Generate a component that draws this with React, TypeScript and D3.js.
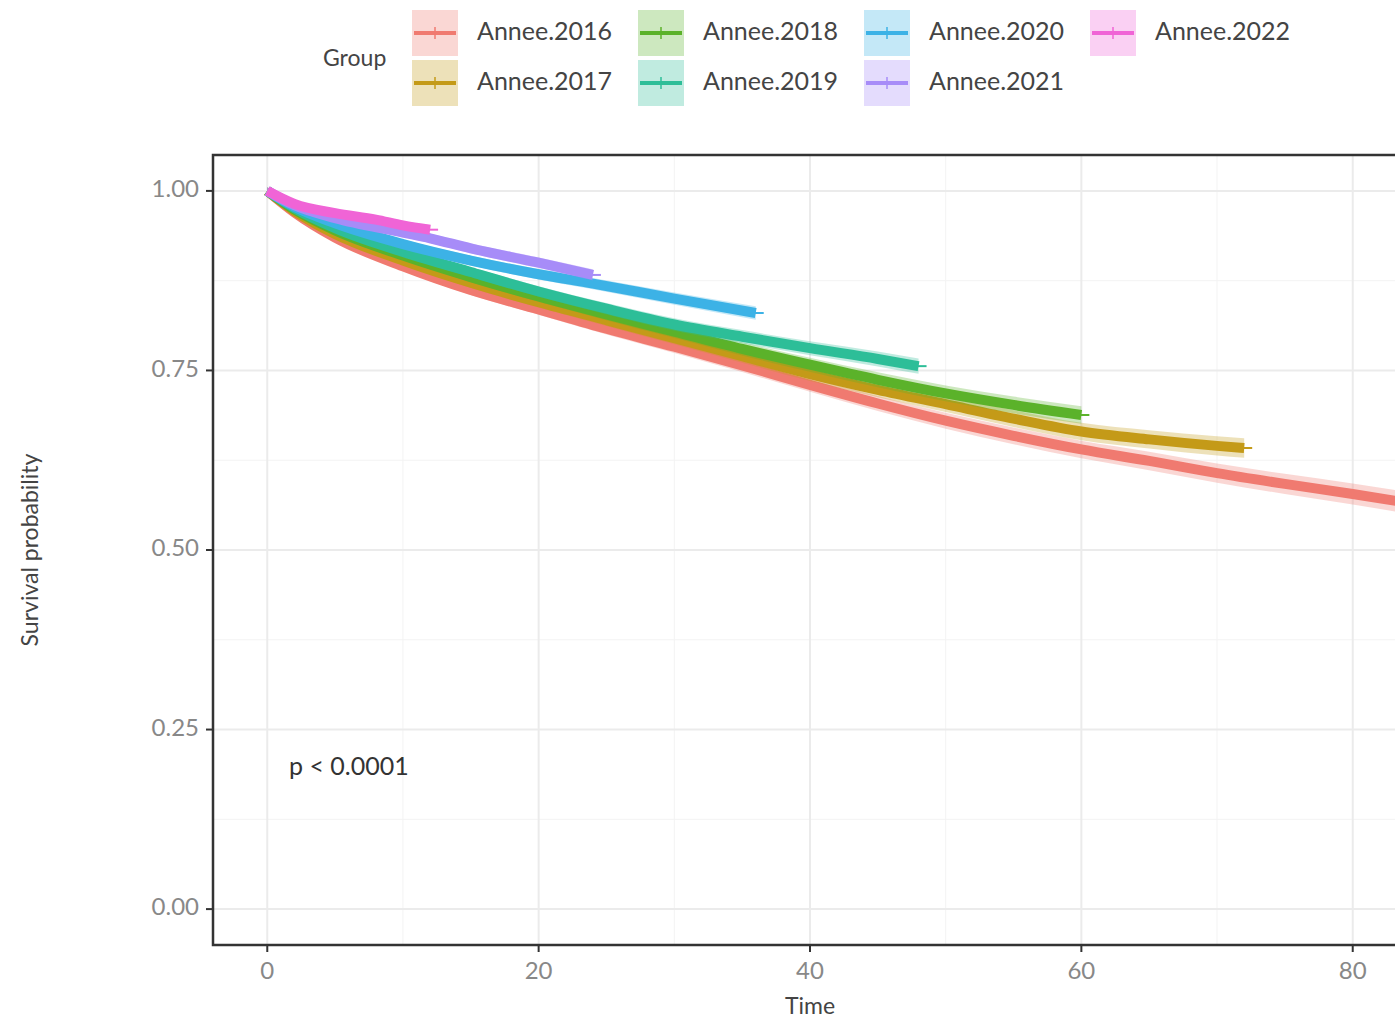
import React from 'react';
import * as d3 from 'd3';

const groups = ['Annee.2016', 'Annee.2017', 'Annee.2018', 'Annee.2019', 'Annee.2020', 'Annee.2021', 'Annee.2022'];
const groupColors = ['#F07A70', '#C49A18', '#5BB22A', '#2DBE98', '#3CB2E6', '#A78CF8', '#F064D6'];

// survival estimates, [time, probability]
const s2016 = [[0, 1], [2, 0.97], [5, 0.935], [10, 0.895], [15, 0.862], [20, 0.835], [25, 0.808], [30, 0.783], [35, 0.757], [40, 0.73], [45, 0.704], [50, 0.68], [55, 0.659], [60, 0.64], [65, 0.624], [70, 0.607], [75, 0.592], [80, 0.578], [84, 0.566]];
const s2017 = [[0, 1], [2, 0.972], [5, 0.94], [10, 0.903], [15, 0.872], [20, 0.845], [25, 0.82], [30, 0.795], [35, 0.77], [40, 0.745], [45, 0.723], [50, 0.703], [55, 0.683], [60, 0.665], [65, 0.654], [70, 0.645], [72, 0.642]];
const s2018 = [[0, 1], [2, 0.974], [5, 0.945], [10, 0.91], [15, 0.88], [20, 0.853], [25, 0.828], [30, 0.804], [35, 0.78], [40, 0.758], [45, 0.737], [50, 0.718], [55, 0.702], [60, 0.688]];
const s2019 = [[0, 1], [2, 0.976], [5, 0.948], [10, 0.915], [15, 0.887], [20, 0.86], [25, 0.836], [30, 0.814], [35, 0.797], [40, 0.781], [45, 0.766], [48, 0.756]];
const s2020 = [[0, 1], [2, 0.978], [5, 0.955], [10, 0.926], [15, 0.903], [20, 0.884], [24, 0.871], [30, 0.85], [36, 0.83]];
const s2021 = [[0, 1], [2, 0.98], [5, 0.962], [10, 0.942], [12, 0.934], [15, 0.92], [20, 0.9], [24, 0.883]];
const s2022 = [[0, 1], [2, 0.982], [5, 0.969], [8, 0.96], [10, 0.952], [12, 0.946]];
const series = [s2016, s2017, s2018, s2019, s2020, s2021, s2022];

const xTicks = [0, 20, 40, 60, 80];
const yTicks = [0, 0.25, 0.5, 0.75, 1];
const xMinor = [10, 30, 50, 70];
const yMinor = [0.125, 0.375, 0.625, 0.875];

const W = 1395;
const H = 1020;
const FONT = 'Lato, "Noto Sans", sans-serif';

const App: React.FC = () => {
  const x = d3.scaleLinear().domain([-4, 84]).range([213, 1407]);
  const y = d3.scaleLinear().domain([-0.05, 1.05]).range([945, 155]);

  const line = d3.line<number[]>()
    .x(d => x(d[0]))
    .y(d => y(d[1]))
    .curve(d3.curveMonotoneX);

  const band = d3.area<number[]>()
    .x(d => x(d[0]))
    .y0(d => y(d[1] - 0.005 - d[0] * 0.00012))
    .y1(d => y(d[1] + 0.005 + d[0] * 0.00012))
    .curve(d3.curveMonotoneX);

  const [x0, x1] = x.range();
  const [y0, y1] = y.range();

  return (
    <svg width={W} height={H} style={{ position: 'absolute', left: 0, top: 0 }} fontFamily={FONT}>
      <rect width={W} height={H} fill="#fff" />

      {/* legend */}
      <text x={323} y={60} fontSize={23} fill="#444" dominantBaseline="middle">Group</text>
      {groups.map((g, i) => {
        const col = Math.floor(i / 2);
        const row = i % 2;
        const kx = 412 + col * 226;
        const ky = 10 + row * 50;
        return (
          <g key={g}>
            <rect x={kx} y={ky} width={46} height={46} fill={groupColors[i]} fillOpacity={0.3} />
            <line x1={kx + 2} x2={kx + 44} y1={ky + 23} y2={ky + 23} stroke={groupColors[i]} strokeWidth={4} />
            <line x1={kx + 23} x2={kx + 23} y1={ky + 17} y2={ky + 29} stroke={groupColors[i]} strokeWidth={1.5} />
            <text x={kx + 65} y={ky + 24} fontSize={25} fill="#444" dominantBaseline="middle">{g}</text>
          </g>
        );
      })}

      {/* panel grid */}
      <g>
        {xMinor.map(v => (
          <line key={'xm' + v} x1={x(v)} x2={x(v)} y1={y1} y2={y0} stroke="#f3f3f3" strokeWidth={1} />
        ))}
        {yMinor.map(v => (
          <line key={'ym' + v} x1={x0} x2={x1} y1={y(v)} y2={y(v)} stroke="#f3f3f3" strokeWidth={1} />
        ))}
        {xTicks.map(v => (
          <line key={'xg' + v} x1={x(v)} x2={x(v)} y1={y1} y2={y0} stroke="#ebebeb" strokeWidth={2} />
        ))}
        {yTicks.map(v => (
          <line key={'yg' + v} x1={x0} x2={x1} y1={y(v)} y2={y(v)} stroke="#ebebeb" strokeWidth={2} />
        ))}
      </g>

      {/* survival curves */}
      {series.map((s, i) => (
        <g key={groups[i]}>
          <path d={band(s) || ''} fill={groupColors[i]} fillOpacity={0.3} />
          <path d={line(s) || ''} fill="none" stroke={groupColors[i]} strokeWidth={10} strokeLinejoin="round" />
          <line
            x1={x(s[s.length - 1][0]) - 2}
            x2={x(s[s.length - 1][0]) + 8}
            y1={y(s[s.length - 1][1])}
            y2={y(s[s.length - 1][1])}
            stroke={groupColors[i]}
            strokeWidth={2}
          />
        </g>
      ))}

      <text x={289} y={769} fontSize={25} fill="#333" dominantBaseline="middle">p &lt; 0.0001</text>

      {/* panel border */}
      <rect x={x0} y={y1} width={x1 - x0} height={y0 - y1} fill="none" stroke="#333" strokeWidth={2.5} />

      {/* axes */}
      {yTicks.map(v => (
        <g key={'yt' + v}>
          <line x1={x0 - 7} x2={x0} y1={y(v)} y2={y(v)} stroke="#333" strokeWidth={2} />
          <text x={x0 - 14} y={y(v)} fontSize={24} fill="#888" textAnchor="end" dominantBaseline="middle">
            {d3.format('.2f')(v)}
          </text>
        </g>
      ))}
      {xTicks.map(v => (
        <g key={'xt' + v}>
          <line x1={x(v)} x2={x(v)} y1={y0} y2={y0 + 7} stroke="#333" strokeWidth={2} />
          <text x={x(v)} y={y0 + 28} fontSize={24} fill="#888" textAnchor="middle" dominantBaseline="middle">
            {v}
          </text>
        </g>
      ))}

      <text x={x(40)} y={1008} fontSize={23} fill="#444" textAnchor="middle" dominantBaseline="middle">Time</text>
      <text
        transform={`translate(32,${y(0.5)}) rotate(-90)`}
        fontSize={23}
        fill="#444"
        textAnchor="middle"
        dominantBaseline="middle"
      >
        Survival probability
      </text>
    </svg>
  );
};

export default App;
